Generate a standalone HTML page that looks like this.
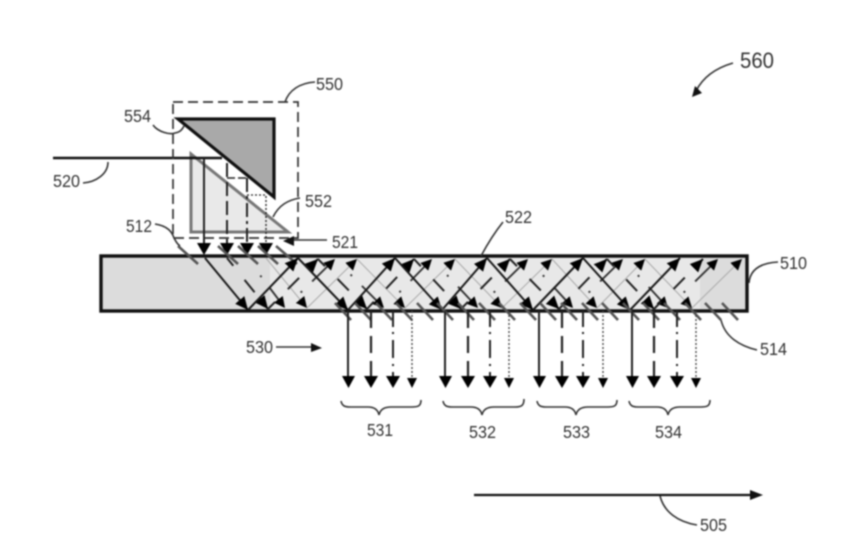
<!DOCTYPE html>
<html>
<head>
<meta charset="utf-8">
<style>
html,body{margin:0;padding:0;background:#fff;width:862px;height:546px;overflow:hidden}
svg{display:block;filter:blur(0.7px)}
text{font-family:"Liberation Sans",sans-serif;font-size:17.5px;fill:#333}
.lead{fill:none;stroke:#333;stroke-width:1.6}
</style>
</head>
<body>
<svg width="862" height="546" viewBox="0 0 862 546" xmlns="http://www.w3.org/2000/svg">
<defs>
<marker id="a" markerUnits="userSpaceOnUse" markerWidth="15" markerHeight="13" refX="13" refY="6" orient="auto"><path d="M0 0L13 6L0 12z" fill="#000"/></marker>
<marker id="b" markerUnits="userSpaceOnUse" markerWidth="14" markerHeight="12" refX="11" refY="5.500" orient="auto"><path d="M0 0L11 5.500L0 11z" fill="#000"/></marker>
</defs>

<!-- plate -->
<rect x="101" y="256" width="646" height="55" fill="#dcdcdc" stroke="#111" stroke-width="3.4"/>
<rect x="270" y="258" width="430" height="51" fill="#e8e8e8"/>

<!-- input prisms -->
<path d="M191 154V232H288Z" fill="#e9e9e9" stroke="#777" stroke-width="3"/>
<path d="M178 119H274V197Z" fill="#a9a9a9" stroke="#111" stroke-width="3.2"/>
<path d="M53 158H222" stroke="#111" stroke-width="2.6" fill="none"/>
<rect x="173" y="102" width="125" height="136" fill="none" stroke="#333" stroke-width="1.7" stroke-dasharray="10 5"/>

<!-- input verticals -->
<g fill="none" stroke="#222" stroke-width="2">
<path d="M204 158V253"/>
<path d="M227 163V253" stroke-dasharray="14 5"/>
<path d="M247 178V253" stroke-dasharray="14 4 3 4"/>
<path d="M266 196V253" stroke-width="1.4" stroke-dasharray="2 2"/>
<path d="M227 178H247" stroke-dasharray="8 3" stroke-width="1.4"/>
<path d="M247 195H266" stroke-width="1.2" stroke-dasharray="2 2"/>
</g>
<g fill="#000">
<path d="M197 243H211L204 255z"/><path d="M220 243H234L227 255z"/><path d="M240 243H254L247 255z"/><path d="M259 243H273L266 255z"/>
</g>

<!-- top grating ticks -->
<g stroke="#555" stroke-width="2.6">
<line x1="178" y1="246" x2="198" y2="264"/><line x1="218" y1="246" x2="238" y2="264"/><line x1="238" y1="246" x2="258" y2="264"/><line x1="258" y1="246" x2="278" y2="264"/><line x1="276" y1="246" x2="297" y2="264"/>
</g>

<!-- ray 4: thin gray -->
<g stroke="#aaa" stroke-width="1" fill="none">
<line x1="266" y1="258" x2="307" y2="308" marker-end="url(#b)"/>
<line x1="307" y1="308" x2="357" y2="259" marker-end="url(#b)"/>
<line x1="357" y1="259" x2="405" y2="308" marker-end="url(#b)"/>
<line x1="405" y1="308" x2="455" y2="259" marker-end="url(#b)"/>
<line x1="455" y1="259" x2="502" y2="308" marker-end="url(#b)"/>
<line x1="502" y1="308" x2="552" y2="259" marker-end="url(#b)"/>
<line x1="552" y1="259" x2="597" y2="308" marker-end="url(#b)"/>
<line x1="597" y1="308" x2="645" y2="259" marker-end="url(#b)"/>
<line x1="645" y1="259" x2="692" y2="308" marker-end="url(#b)"/>
<line x1="692" y1="308" x2="742" y2="259" marker-end="url(#b)"/>
</g>
<!-- ray 3: dot + dash -->
<g stroke="#333" stroke-width="1.9" stroke-dasharray="2 14 22 32" stroke-dashoffset="-22" fill="none">
<line x1="247" y1="258" x2="285" y2="308" marker-end="url(#b)"/>
<line x1="285" y1="308" x2="335" y2="259" marker-end="url(#b)"/>
<line x1="335" y1="259" x2="384" y2="308" marker-end="url(#b)"/>
<line x1="384" y1="308" x2="432" y2="259" marker-end="url(#b)"/>
<line x1="432" y1="259" x2="478" y2="308" marker-end="url(#b)"/>
<line x1="478" y1="308" x2="528" y2="259" marker-end="url(#b)"/>
<line x1="528" y1="259" x2="573" y2="308" marker-end="url(#b)"/>
<line x1="573" y1="308" x2="623" y2="259" marker-end="url(#b)"/>
<line x1="623" y1="259" x2="668" y2="308" marker-end="url(#b)"/>
<line x1="668" y1="308" x2="718" y2="259" marker-end="url(#b)"/>
</g>
<!-- ray 2: dashed -->
<g stroke="#222" stroke-width="2" stroke-dasharray="16 18" stroke-dashoffset="-28" fill="none">
<line x1="227" y1="258" x2="268" y2="309" marker-end="url(#a)"/>
<line x1="268" y1="309" x2="318" y2="259" marker-end="url(#a)"/>
<line x1="318" y1="259" x2="367" y2="309" marker-end="url(#a)"/>
<line x1="367" y1="309" x2="414" y2="259" marker-end="url(#a)"/>
<line x1="414" y1="259" x2="461" y2="309" marker-end="url(#a)"/>
<line x1="461" y1="309" x2="510" y2="259" marker-end="url(#a)"/>
<line x1="510" y1="259" x2="559" y2="309" marker-end="url(#a)"/>
<line x1="559" y1="309" x2="607" y2="259" marker-end="url(#a)"/>
<line x1="607" y1="259" x2="654" y2="309" marker-end="url(#a)"/>
<line x1="654" y1="309" x2="703" y2="259" marker-end="url(#a)"/>
</g>
<!-- ray 1: solid -->
<g stroke="#1a1a1a" stroke-width="2" fill="none">
<line x1="205" y1="258" x2="248" y2="310" marker-end="url(#a)"/>
<line x1="248" y1="310" x2="298" y2="258" marker-end="url(#a)"/>
<line x1="298" y1="258" x2="348" y2="310" marker-end="url(#a)"/>
<line x1="348" y1="310" x2="395" y2="258" marker-end="url(#a)"/>
<line x1="395" y1="258" x2="442" y2="310" marker-end="url(#a)"/>
<line x1="442" y1="310" x2="487" y2="258" marker-end="url(#a)"/>
<line x1="487" y1="258" x2="533" y2="310" marker-end="url(#a)"/>
<line x1="533" y1="310" x2="583" y2="258" marker-end="url(#a)"/>
<line x1="583" y1="258" x2="630" y2="310" marker-end="url(#a)"/>
<line x1="630" y1="310" x2="680" y2="258" marker-end="url(#a)"/>
</g>

<!-- bottom grating ticks -->
<g stroke="#555" stroke-width="2.6">
<line x1="335" y1="303" x2="351" y2="320"/><line x1="355" y1="303" x2="371" y2="320"/><line x1="376" y1="303" x2="392" y2="320"/><line x1="396" y1="303" x2="412" y2="320"/><line x1="417" y1="303" x2="433" y2="320"/><line x1="437" y1="303" x2="453" y2="320"/><line x1="458" y1="303" x2="474" y2="320"/><line x1="479" y1="303" x2="495" y2="320"/><line x1="499" y1="303" x2="515" y2="320"/><line x1="520" y1="303" x2="536" y2="320"/><line x1="540" y1="303" x2="556" y2="320"/><line x1="561" y1="303" x2="577" y2="320"/><line x1="582" y1="303" x2="598" y2="320"/><line x1="602" y1="303" x2="618" y2="320"/><line x1="623" y1="303" x2="639" y2="320"/><line x1="643" y1="303" x2="659" y2="320"/><line x1="664" y1="303" x2="680" y2="320"/><line x1="685" y1="303" x2="701" y2="320"/><line x1="705" y1="303" x2="721" y2="320"/><line x1="722" y1="303" x2="738" y2="320"/>
</g>

<!-- output arrows -->
<g fill="none" stroke="#222">
<g stroke-width="2"><path d="M348 311V378M445 311V378M539 311V378M632 311V378"/></g>
<g stroke-width="2.2" stroke-dasharray="17 8 17 8 30"><path d="M371 311V378M468 311V378M562 311V378M654 311V378"/></g>
<g stroke-width="2" stroke-dasharray="16 5 2 6 18 6 2 6 8"><path d="M393 311V378M490 311V378M583 311V378M677 311V378"/></g>
<g stroke="#444" stroke-width="1.4" stroke-dasharray="2 2"><path d="M412 311V379M509 311V379M603 311V379M696 311V379"/></g>
</g>
<g fill="#000">
<path d="M342 376H355L348.500 388z"/><path d="M364 376H378L371 388z"/><path d="M386 376H400L393 388z"/><path d="M407 378H417L412 388z"/>
<path d="M439 376H452L445.500 388z"/><path d="M461 376H475L468 388z"/><path d="M483 376H497L490 388z"/><path d="M504 378H514L509 388z"/>
<path d="M533 376H546L539.500 388z"/><path d="M555 376H569L562 388z"/><path d="M576 376H590L583 388z"/><path d="M598 378H608L603 388z"/>
<path d="M626 376H639L632.500 388z"/><path d="M647 376H661L654 388z"/><path d="M670 376H684L677 388z"/><path d="M691 378H701L696 388z"/>
</g>

<!-- braces -->
<g class="lead" fill="none" stroke="#333" stroke-width="1.5">
<path fill="none" d="M341 401C342 406 345 407 350 407H368C375 407 378 410 379 415C380 410 384 407 391 407H412C418 407 421 406 421 400"/>
<path fill="none" d="M443 401C444 406 447 407 452 407H471C478 407 481 410 482 415C483 410 487 407 494 407H515C521 407 524 406 524 399"/>
<path fill="none" d="M537 401C538 406 541 407 546 407H565C572 407 575 410 576 415C577 410 581 407 588 407H608C614 407 617 406 617 400"/>
<path fill="none" d="M629 401C630 406 633 407 638 407H657C664 407 667 410 668 415C669 410 673 407 680 407H701C707 407 710 406 710 400"/>
</g>

<!-- bottom direction arrow -->
<path d="M474 495H752" stroke="#111" stroke-width="2.2" fill="none"/>
<path d="M750 490L763 495L750 500z" fill="#111"/>

<!-- leaders -->
<g class="lead">
<path d="M660 496C664 512 678 522 697 525"/>
<path d="M733 63C716 68 703 77 696 91"/>
<path d="M749 283C750 270 760 263 778 262"/>
<path d="M721 320C725 337 740 346 757 350"/>
<path d="M481 256C488 243 495 232 503 222"/>
<path d="M276 347H312"/>
<path d="M327 240H288"/>
<path d="M155 224C168 226 172 232 174 238C176 241 176 243 180 246"/>
<path d="M273 217C279 205 288 200 300 198"/>
<path d="M153 125C158 132 170 135 175 133C180 132 182 130 184 126"/>
<path d="M285 102C289 90 300 83 315 82"/>
<path d="M83 183C96 182 108 174 108 162"/>
</g>
<path d="M692 97L695 86L702 93z" fill="#111"/>
<path d="M311 343L322 348L311 352z" fill="#111"/>
<path d="M283 241L294 236V246z" fill="#111"/>

<!-- labels -->
<text x="740" y="68" textLength="34" lengthAdjust="spacingAndGlyphs" style="font-size:22px">560</text>
<text x="316" y="90" textLength="27" lengthAdjust="spacingAndGlyphs">550</text>
<text x="124" y="122" textLength="27" lengthAdjust="spacingAndGlyphs">554</text>
<text x="53" y="187" textLength="27" lengthAdjust="spacingAndGlyphs">520</text>
<text x="305" y="207" textLength="27" lengthAdjust="spacingAndGlyphs">552</text>
<text x="126" y="232" textLength="26" lengthAdjust="spacingAndGlyphs">512</text>
<text x="332" y="248" textLength="26" lengthAdjust="spacingAndGlyphs">521</text>
<text x="505" y="223" textLength="27" lengthAdjust="spacingAndGlyphs">522</text>
<text x="780" y="269" textLength="27" lengthAdjust="spacingAndGlyphs">510</text>
<text x="246" y="353" textLength="27" lengthAdjust="spacingAndGlyphs">530</text>
<text x="760" y="355" textLength="27" lengthAdjust="spacingAndGlyphs">514</text>
<text x="367" y="436" textLength="26" lengthAdjust="spacingAndGlyphs">531</text>
<text x="469" y="438" textLength="27" lengthAdjust="spacingAndGlyphs">532</text>
<text x="563" y="438" textLength="27" lengthAdjust="spacingAndGlyphs">533</text>
<text x="655" y="438" textLength="27" lengthAdjust="spacingAndGlyphs">534</text>
<text x="700" y="531" textLength="27" lengthAdjust="spacingAndGlyphs">505</text>
</svg>
</body>
</html>
